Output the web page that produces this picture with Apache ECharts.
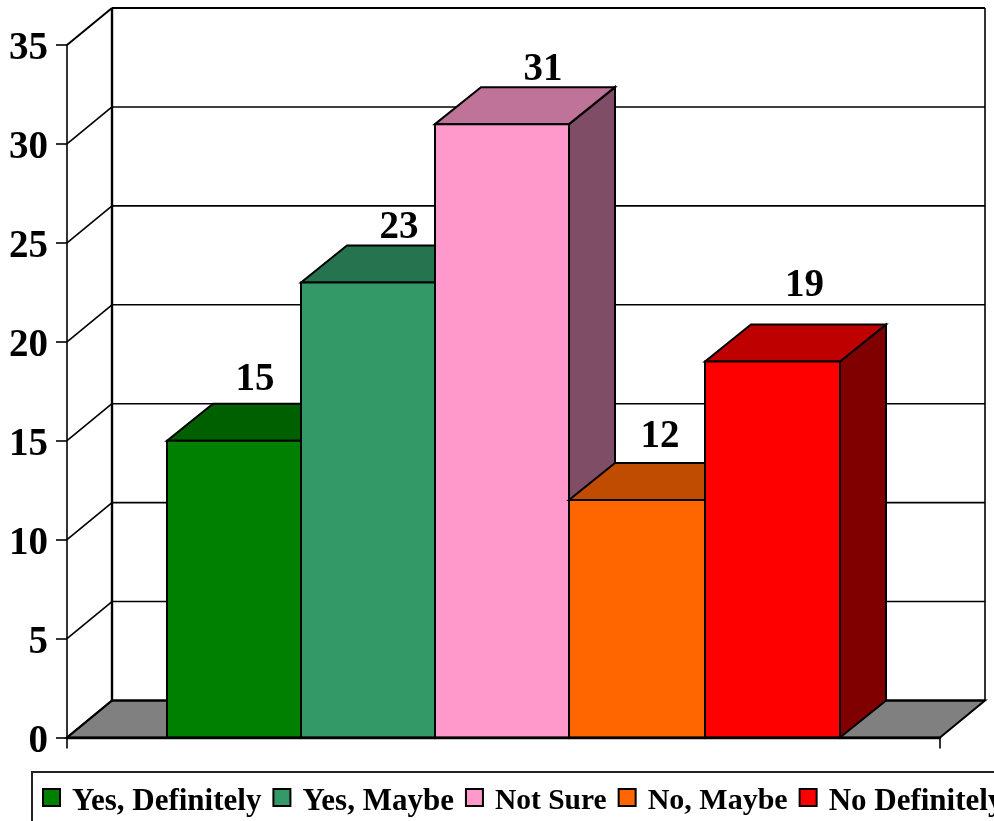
<!DOCTYPE html>
<html><head><meta charset="utf-8">
<style>html,body{margin:0;padding:0;background:#fff;overflow:hidden}#c{width:994px;height:821px}</style>
<script src="https://cdn.jsdelivr.net/npm/echarts@6/dist/echarts.min.js"></script>
</head><body><div id="c"></div>
<script>
var names = ['Yes, Definitely','Yes, Maybe','Not Sure','No, Maybe','No Definitely'];
var values = [15,23,31,12,19];
var yTicks = [0,5,10,15,20,25,30,35];
var categories = [''];

var front = ['#008000','#339966','#FF99CC','#FF6600','#FF0000'];
var top3d = ['#006000','#267350','#BF7399','#BF4C00','#BF0000'];
var side = ['#004000','#1A4D33','#804D66','#803300','#800000'];
var legendSizes = [31,31,29.5,30,31];
var legendWidths = [189,153,114,142,190];
var FONT = '"Liberation Serif","Times New Roman",serif';
var BAR_FRAC = 134.6/873, DX = 46, DY = -37, WDX = 45;
var edgeNudge = [0,-0.6,-1.2,-1.8,-0.4,0];
var labelShift = [[21,-24],[31,-18],[41,-17],[23,-26],[32,-39]];

function line(x1,y1,x2,y2,w){
  return {type:'line',shape:{x1:x1,y1:y1,x2:x2,y2:y2},style:{stroke:'#000',lineWidth:w,fill:null}};
}
function poly(pts,fill){
  return {type:'polygon',shape:{points:pts},style:{fill:fill,stroke:'#000',lineWidth:2,lineJoin:'miter'}};
}
function renderFrame(params,api){
  var v = api.value(0);
  var c = api.coord([0,v]);
  var band = api.size([1,0])[0];
  var xl = c[0]-band/2, xr = c[0]+band/2, y = c[1];
  var out = [];
  var thick = (v===0||v===35);
  if(v===0){
    out.push({type:'polygon',shape:{points:[[xl,y],[xl+WDX,y+DY],[xr+WDX,y+DY],[xr,y]]},style:{fill:'#808080',stroke:'#000',lineWidth:2}});
  }
  if(v===35){
    var y0 = api.coord([0,0])[1];
    out.push(line(xl+WDX,y+DY,xl+WDX,y0+DY,2.4));
    out.push(line(xr+WDX,y+DY,xr+WDX,y0+DY,1.6));
  }
  out.push(line(xl,y,xl+WDX,y+DY,thick?2:1.6));
  out.push(line(xl+WDX,y+DY,xr+WDX,y+DY,thick?2.2:1.6));
  return {type:'group',children:out,silent:true};
}
function renderBar(i){
  return function(params,api){
    var c = api.coord([0,api.value(1)]);
    var y0 = api.coord([0,0])[1];
    var w = api.size([1,0])[0]*BAR_FRAC;
    var l = c[0]+(i-2.5)*w+edgeNudge[i], r = c[0]+(i-1.5)*w+edgeNudge[i+1], t = c[1];
    return {type:'group',children:[
      poly([[r,t],[r+DX,t+DY],[r+DX,y0+DY],[r,y0]],side[i]),
      poly([[l,t],[l+DX,t+DY],[r+DX,t+DY],[r,t]],top3d[i]),
      poly([[l,t],[r,t],[r,y0],[l,y0]],front[i]),
      {type:'text',style:{text:String(api.value(1)),x:(l+r)/2+labelShift[i][0],y:t+DY+labelShift[i][1],
        align:'center',verticalAlign:'middle',fill:'#000',font:'bold 39px '+FONT}}
    ]};
  };
}
var series = [{type:'custom',name:'frame',z:1,silent:true,coordinateSystem:'cartesian2d',
  renderItem:renderFrame,data:yTicks.map(function(v){return [v];}),encode:{y:0},clip:false}];
names.forEach(function(n,i){
  series.push({type:'custom',name:n,z:2+i,coordinateSystem:'cartesian2d',renderItem:renderBar(i),
    itemStyle:{color:front[i]},clip:false,encode:{x:0,y:1},
    data:[[0,values[i]]]});
});
var legendRich = {};
names.forEach(function(n,i){
  legendRich['s'+i] = {fontSize:legendSizes[i],fontFamily:FONT,fontWeight:'bold',color:'#000',width:legendWidths[i],align:'left',padding:[8,0,0,7]};
});
var chart = echarts.init(document.getElementById('c'),null,{renderer:'canvas'});
chart.setOption({
  animation:false,
  backgroundColor:'#fff',
  grid:{left:67,top:45,width:873,height:692.5,containLabel:false},
  xAxis:{type:'category',data:categories,boundaryGap:true,z:10,
    axisLine:{show:true,lineStyle:{color:'#000',width:2.4}},
    axisTick:{show:true,length:11,inside:false,alignWithLabel:false,lineStyle:{color:'#000',width:1.6}},
    axisLabel:{show:false},splitLine:{show:false}},
  yAxis:{type:'value',min:0,max:35,interval:5,z:10,
    axisLine:{show:true,onZero:false,lineStyle:{color:'#000',width:1.6}},
    axisTick:{show:true,length:11,lineStyle:{color:'#000',width:1.6}},
    axisLabel:{margin:19,formatter:'{a|{value}}',
      rich:{a:{color:'#000',fontFamily:FONT,fontWeight:'bold',fontSize:39,padding:[8,0,0,0]}}},
    splitLine:{show:false}},
  legend:{show:true,data:names,formatter:function(n){return '{s'+names.indexOf(n)+'|'+n+'}';},
    left:32,top:772,width:1400,orient:'horizontal',
    padding:[14,20,40,10],itemGap:11,itemWidth:17,itemHeight:17,icon:'rect',
    borderColor:'#222',borderWidth:2,backgroundColor:'#fff',selectedMode:false,
    itemStyle:{borderColor:'#000',borderWidth:2},
    textStyle:{rich:legendRich}},
  series:series
});
</script></body></html>
